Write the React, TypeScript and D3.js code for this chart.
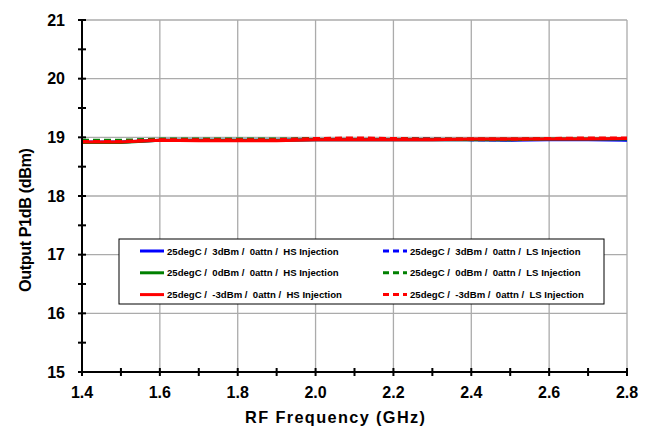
import React from "react";
import * as d3 from "d3";

const freqs = [1.4, 1.5, 1.6, 1.7, 1.8, 1.9, 2.0, 2.1, 2.2, 2.3, 2.4, 2.5, 2.6, 2.7, 2.8];
const blueHS = [18.92, 18.92, 18.95, 18.95, 18.95, 18.95, 18.96, 18.96, 18.96, 18.96, 18.96, 18.95, 18.96, 18.96, 18.95];
const greenHS = [18.91, 18.91, 18.95, 18.95, 18.95, 18.95, 18.96, 18.96, 18.96, 18.96, 18.96, 18.96, 18.97, 18.97, 18.97];
const redHS = [18.92, 18.92, 18.95, 18.94, 18.94, 18.94, 18.96, 18.96, 18.96, 18.96, 18.97, 18.97, 18.97, 18.97, 18.98];
const blueLS = [18.94, 18.94, 18.96, 18.96, 18.96, 18.96, 18.97, 18.97, 18.97, 18.97, 18.96, 18.96, 18.97, 18.97, 18.96];
const greenLS = [18.95, 18.95, 18.97, 18.97, 18.97, 18.97, 18.98, 18.98, 18.98, 18.97, 18.97, 18.97, 18.98, 18.98, 18.98];
const redLS = [18.93, 18.93, 18.96, 18.96, 18.96, 18.96, 18.98, 18.99, 18.98, 18.97, 18.97, 18.97, 18.98, 18.99, 18.99];

const xTicks = [1.4, 1.6, 1.8, 2.0, 2.2, 2.4, 2.6, 2.8];
const xMinor = [1.5, 1.7, 1.9, 2.1, 2.3, 2.5, 2.7];
const yTicks = [15, 16, 17, 18, 19, 20, 21];
const yMinor = [15.5, 16.5, 17.5, 18.5, 19.5, 20.5];

const series = [
  { label: "25degC /  3dBm /  0attn /  HS Injection", values: blueHS, color: "#0000FF", dashed: false },
  { label: "25degC /  0dBm /  0attn /  HS Injection", values: greenHS, color: "#008000", dashed: false },
  { label: "25degC /  -3dBm /  0attn /  HS Injection", values: redHS, color: "#FF0000", dashed: false },
  { label: "25degC /  3dBm /  0attn /  LS Injection", values: blueLS, color: "#0000FF", dashed: true },
  { label: "25degC /  0dBm /  0attn /  LS Injection", values: greenLS, color: "#008000", dashed: true },
  { label: "25degC /  -3dBm /  0attn /  LS Injection", values: redLS, color: "#FF0000", dashed: true },
];

export default function App() {
  const left = 82, right = 627, top = 20, bottom = 372;
  const x = d3.scaleLinear().domain([1.4, 2.8]).range([left, right]);
  const y = d3.scaleLinear().domain([15, 21]).range([bottom, top]);
  const font = "'Liberation Sans', Arial, sans-serif";
  const drawOrder = [0, 3, 1, 4, 2, 5];

  return (
    <svg width={653} height={430} style={{ position: "absolute", left: 0, top: 0, background: "#fff" }} fontFamily={font}>
      <rect x={0} y={0} width={653} height={430} fill="#fff" />
      {xTicks.slice(1).map((t) => (
        <line key={"gx" + t} x1={x(t)} x2={x(t)} y1={top} y2={bottom} stroke="#ABABAB" strokeWidth={1.3} />
      ))}
      {yTicks.slice(1).map((t) => (
        <line key={"gy" + t} x1={left} x2={right} y1={y(t)} y2={y(t)} stroke="#ABABAB" strokeWidth={1.3} />
      ))}
      {drawOrder.map((i) => {
        const s = series[i];
        const line = d3
          .line<number>()
          .x((_, j) => x(freqs[j]))
          .y((v) => y(v));
        return (
          <path
            key={"s" + i}
            d={line(s.values) || ""}
            fill="none"
            stroke={s.color}
            strokeWidth={3}
            strokeDasharray={s.dashed ? "7,4" : undefined}
          />
        );
      })}
      {/* legend */}
      <rect x={119} y={239} width={485} height={65} fill="#fff" stroke="#000" strokeWidth={1} />
      {series.map((s, i) => {
        const col = i < 3 ? 0 : 1;
        const row = i % 3;
        const lx = col === 0 ? 140 : 383;
        const ly = 251 + row * 21.8;
        return (
          <g key={"l" + i}>
            <line x1={lx} x2={lx + 24} y1={ly} y2={ly} stroke={s.color} strokeWidth={3} strokeDasharray={s.dashed ? "6,4" : undefined} />
            <text x={lx + (col === 0 ? 27 : 27)} y={ly + 3.5} fontSize={9.6} fontWeight="bold" style={{ whiteSpace: "pre" }}>
              {s.label}
            </text>
          </g>
        );
      })}
      {/* axes */}
      <line x1={left} x2={left} y1={top} y2={bottom} stroke="#000" strokeWidth={2} />
      <line x1={left} x2={right} y1={bottom} y2={bottom} stroke="#000" strokeWidth={2} />
      {[...yTicks, ...yMinor].map((t) => (
        <line key={"ty" + t} x1={left - 4} x2={left + 4} y1={y(t)} y2={y(t)} stroke="#000" strokeWidth={2} />
      ))}
      {[...xTicks, ...xMinor].map((t) => (
        <line key={"tx" + t} x1={x(t)} x2={x(t)} y1={bottom - 4} y2={bottom + 4} stroke="#000" strokeWidth={2} />
      ))}
      {yTicks.map((t) => (
        <text key={"ly" + t} x={65} y={y(t) + 5.8} textAnchor="end" fontSize={16} fontWeight="bold">
          {t}
        </text>
      ))}
      {xTicks.map((t) => (
        <text key={"lx" + t} x={x(t)} y={398} textAnchor="middle" fontSize={16} fontWeight="bold">
          {t.toFixed(1)}
        </text>
      ))}
      <text x={245} y={423} fontSize={16.3} fontWeight="bold" textLength={180} lengthAdjust="spacing">
        RF Frequency (GHz)
      </text>
      <text transform={`translate(31,292) rotate(-90)`} fontSize={16.3} fontWeight="bold" textLength={144} lengthAdjust="spacing">
        Output P1dB (dBm)
      </text>
    </svg>
  );
}
